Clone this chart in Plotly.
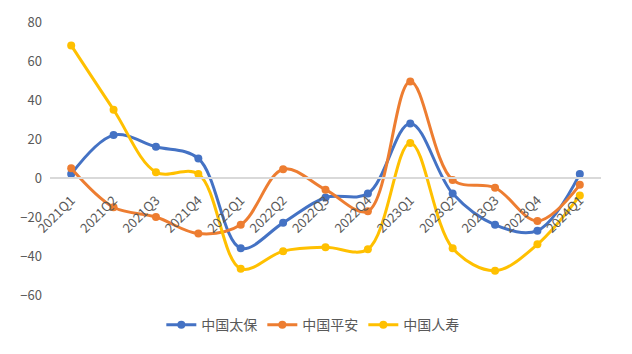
import plotly.graph_objects as go

quarters = ["2021Q1", "2021Q2", "2021Q3", "2021Q4", "2022Q1", "2022Q2", "2022Q3",
            "2022Q4", "2023Q1", "2023Q2", "2023Q3", "2023Q4", "2024Q1"]
taibao = [2, 22, 16, 10, -36, -23, -10, -8, 28, -8, -24, -27, 2]
pingan = [5, -15, -20, -28.5, -24, 4.5, -6, -17, 49.5, -1, -5, -22, -3.5]
renshou = [68, 35, 3, 2, -46.5, -37.5, -35.5, -36.5, 18, -36, -47.5, -34, -9]

series = [("中国太保", taibao, "#4472C4"),
          ("中国平安", pingan, "#ED7D31"),
          ("中国人寿", renshou, "#FFC000")]

fig = go.Figure()
for name, vals, color in series:
    fig.add_trace(go.Scatter(
        x=quarters, y=vals, name=name, mode="lines+markers",
        line=dict(color=color, width=3, shape="spline", smoothing=1.0),
        marker=dict(color=color, size=8),
    ))

ymin, ymax = -60, 80
fig.update_layout(
    width=632, height=354,
    margin=dict(l=50, r=31, t=20, b=59),
    paper_bgcolor="white", plot_bgcolor="white",
    font=dict(family="Noto Sans CJK SC", size=12, color="#595959"),
    showlegend=True,
    legend=dict(orientation="h", x=0.477, xanchor="center", y=-0.11, yanchor="middle",
                font=dict(size=14, color="#595959"), itemwidth=30, tracegroupgap=0),
    xaxis=dict(
        type="category", range=[-0.5, 12.5],
        anchor="free", position=(0 - ymin) / (ymax - ymin),
        showline=True, linecolor="#D9D9D9", linewidth=1.5,
        showgrid=False, zeroline=False, ticks="",
        tickangle=-45, tickfont=dict(size=13, color="#595959"),
        ticklabelstandoff=9,
    ),
    yaxis=dict(
        range=[ymin, ymax], dtick=20, showgrid=False, zeroline=False,
        showline=False, ticks="", tickfont=dict(size=13, color="#595959"),
        ticklabelstandoff=7,
    ),
)

fig.write_html("out.html")
